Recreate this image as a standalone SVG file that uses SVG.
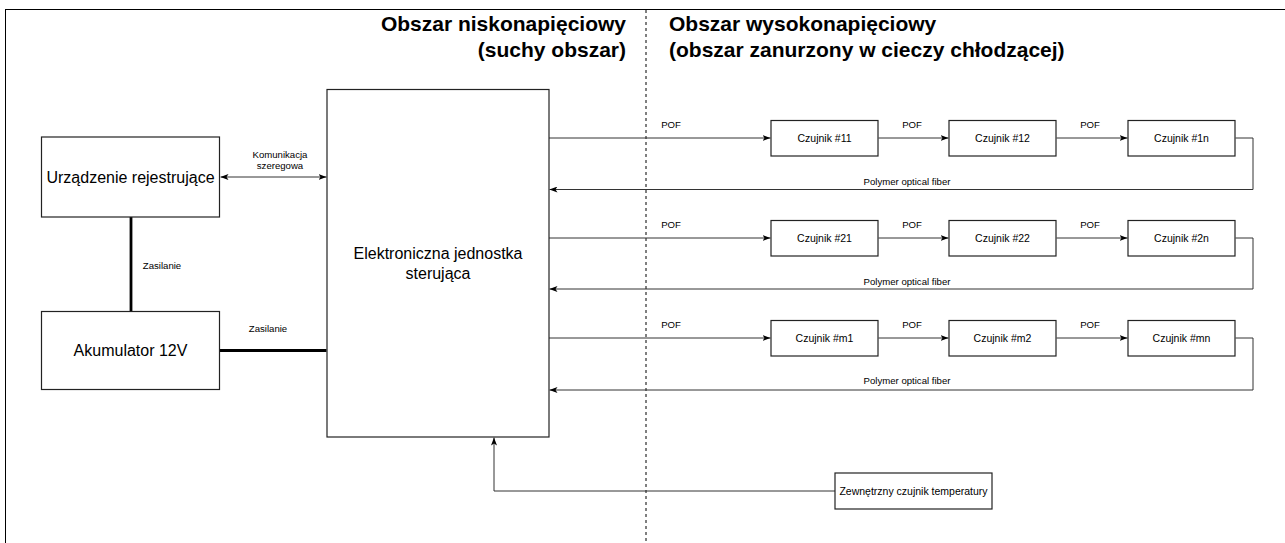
<svg xmlns="http://www.w3.org/2000/svg" width="1285" height="543" viewBox="0 0 1285 543">
<style>
text{font-family:"Liberation Sans",Arial,Helvetica,sans-serif;fill:#000}
.box{fill:#fff;stroke:#222;stroke-width:1.2}
.con{fill:none;stroke:#333;stroke-width:1}
.thick{fill:none;stroke:#000;stroke-width:2.8}
.head{font-size:21px;font-weight:bold}
.main{font-size:16px;text-anchor:middle}
.sens{font-size:10.5px;text-anchor:middle}
.lbl{font-size:9.6px;text-anchor:middle}
</style>
<defs>
<marker id="arr" viewBox="0 0 8 6" refX="8" refY="3" markerWidth="8" markerHeight="6" markerUnits="userSpaceOnUse" orient="auto-start-reverse">
<path d="M0,0 L8,3 L0,6 L2,3 Z" fill="#000"/>
</marker>
</defs>
<rect x="0" y="0" width="1285" height="543" fill="#fff"/>
<rect x="5.5" y="9.5" width="1300" height="600" fill="none" stroke="#000" stroke-width="1"/>
<line x1="646" y1="10" x2="646" y2="543" stroke="#000" stroke-width="1" stroke-dasharray="3,3"/>

<g id="headings">
<text class="head" x="626" y="31" text-anchor="end">Obszar niskonapięciowy</text>
<text class="head" x="626" y="56.5" text-anchor="end">(suchy obszar)</text>
<text class="head" x="669" y="31">Obszar wysokonapięciowy</text>
<text class="head" x="669" y="56.5">(obszar zanurzony w cieczy chłodzącej)</text>
</g>

<g id="connectors">
<line class="con" x1="220.5" y1="177" x2="326.5" y2="177" marker-start="url(#arr)" marker-end="url(#arr)"/>
<text class="lbl" x="280" y="157.5">Komunikacja</text>
<text class="lbl" x="280" y="169">szeregowa</text>
<line class="thick" x1="131" y1="217" x2="131" y2="311.5"/>
<text class="lbl" x="162" y="268.5">Zasilanie</text>
<line class="thick" x1="219.5" y1="350.5" x2="326.5" y2="350.5"/>
<text class="lbl" x="268" y="331.5">Zasilanie</text>

<polyline class="con" points="549,138 770.5,138" marker-end="url(#arr)"/>
<polyline class="con" points="878.5,138 948.5,138" marker-end="url(#arr)"/>
<polyline class="con" points="1056.5,138 1127.5,138" marker-end="url(#arr)"/>
<polyline class="con" points="1235.5,138 1253,138 1253,189.5 549.5,189.5" marker-end="url(#arr)"/>
<text class="lbl" x="671" y="128">POF</text>
<text class="lbl" x="912" y="128">POF</text>
<text class="lbl" x="1090" y="128">POF</text>
<text class="lbl" x="907" y="185">Polymer optical fiber</text>

<polyline class="con" points="549,238 770.5,238" marker-end="url(#arr)"/>
<polyline class="con" points="878.5,238 948.5,238" marker-end="url(#arr)"/>
<polyline class="con" points="1056.5,238 1127.5,238" marker-end="url(#arr)"/>
<polyline class="con" points="1235.5,238 1253,238 1253,289 549.5,289" marker-end="url(#arr)"/>
<text class="lbl" x="671" y="228">POF</text>
<text class="lbl" x="912" y="228">POF</text>
<text class="lbl" x="1090" y="228">POF</text>
<text class="lbl" x="907" y="284.5">Polymer optical fiber</text>

<polyline class="con" points="549,338 770.5,338" marker-end="url(#arr)"/>
<polyline class="con" points="878.5,338 948.5,338" marker-end="url(#arr)"/>
<polyline class="con" points="1056.5,338 1127.5,338" marker-end="url(#arr)"/>
<polyline class="con" points="1235.5,338 1253,338 1253,390 549.5,390" marker-end="url(#arr)"/>
<text class="lbl" x="671" y="328">POF</text>
<text class="lbl" x="912" y="328">POF</text>
<text class="lbl" x="1090" y="328">POF</text>
<text class="lbl" x="907" y="384">Polymer optical fiber</text>

<polyline class="con" points="835,491 494,491 494,437.5" marker-end="url(#arr)"/>
</g>

<g id="urzadzenie">
<rect class="box" x="41.5" y="137" width="178" height="80"/>
<text class="main" x="130.5" y="182.5">Urządzenie rejestrujące</text>
</g>
<g id="akumulator">
<rect class="box" x="41.5" y="311.5" width="178" height="78"/>
<text class="main" x="130.5" y="356">Akumulator 12V</text>
</g>
<g id="ecu">
<rect class="box" x="327" y="89.5" width="222" height="347.5"/>
<text class="main" x="438" y="259">Elektroniczna jednostka</text>
<text class="main" x="438" y="278.5">sterująca</text>
</g>

<g id="czujnik11"><rect class="box" x="771" y="120.5" width="107" height="35.5"/><text class="sens" x="824.5" y="142">Czujnik #11</text></g>
<g id="czujnik12"><rect class="box" x="949" y="120.5" width="107" height="35.5"/><text class="sens" x="1002.5" y="142">Czujnik #12</text></g>
<g id="czujnik1n"><rect class="box" x="1128" y="120.5" width="107" height="35.5"/><text class="sens" x="1181.5" y="142">Czujnik #1n</text></g>

<g id="czujnik21"><rect class="box" x="771" y="220.5" width="107" height="35.5"/><text class="sens" x="824.5" y="242">Czujnik #21</text></g>
<g id="czujnik22"><rect class="box" x="949" y="220.5" width="107" height="35.5"/><text class="sens" x="1002.5" y="242">Czujnik #22</text></g>
<g id="czujnik2n"><rect class="box" x="1128" y="220.5" width="107" height="35.5"/><text class="sens" x="1181.5" y="242">Czujnik #2n</text></g>

<g id="czujnikm1"><rect class="box" x="771" y="320.5" width="107" height="35.5"/><text class="sens" x="824.5" y="342">Czujnik #m1</text></g>
<g id="czujnikm2"><rect class="box" x="949" y="320.5" width="107" height="35.5"/><text class="sens" x="1002.5" y="342">Czujnik #m2</text></g>
<g id="czujnikmn"><rect class="box" x="1128" y="320.5" width="107" height="35.5"/><text class="sens" x="1181.5" y="342">Czujnik #mn</text></g>

<g id="temp">
<rect class="box" x="835" y="473" width="157" height="36"/>
<text class="sens" x="913.5" y="495">Zewnętrzny czujnik temperatury</text>
</g>
</svg>
